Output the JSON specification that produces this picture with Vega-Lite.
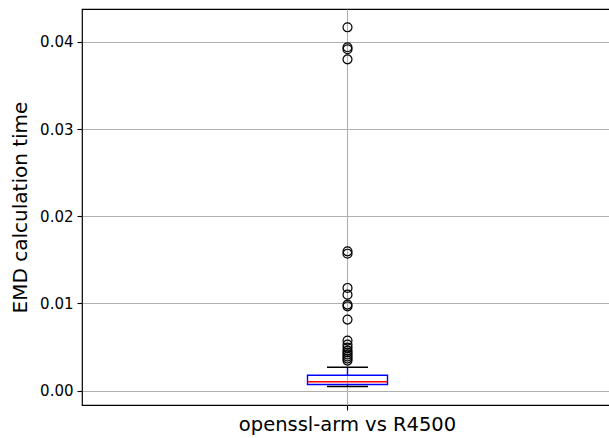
{
  "$schema": "https://vega.github.io/schema/vega-lite/v6.json",
  "width": 531,
  "height": 396,
  "autosize": {"type": "none"},
  "padding": {"left": 82, "top": 9, "right": 0, "bottom": 33},
  "background": "white",
  "config": {
    "font": "DejaVu Sans",
    "view": {"stroke": "black", "strokeWidth": 1.2},
    "axis": {
      "gridColor": "#b0b0b0",
      "gridWidth": 1.1,
      "gridOpacity": 1,
      "domain": false,
      "tickColor": "black",
      "tickSize": 5,
      "tickWidth": 1.1,
      "labelColor": "black",
      "labelFont": "DejaVu Sans",
      "titleFont": "DejaVu Sans",
      "titleFontWeight": "normal",
      "titleColor": "black"
    }
  },
  "datasets": {
    "summary": [
      {"group": "openssl-arm vs R4500", "lower": 0.00046, "q1": 0.00069, "median": 0.00100, "q3": 0.00175, "upper": 0.00267}
    ],
    "outliers": [
      {"group": "openssl-arm vs R4500", "value": 0.04168},
      {"group": "openssl-arm vs R4500", "value": 0.03939},
      {"group": "openssl-arm vs R4500", "value": 0.03916},
      {"group": "openssl-arm vs R4500", "value": 0.03800},
      {"group": "openssl-arm vs R4500", "value": 0.01597},
      {"group": "openssl-arm vs R4500", "value": 0.01570},
      {"group": "openssl-arm vs R4500", "value": 0.01177},
      {"group": "openssl-arm vs R4500", "value": 0.01100},
      {"group": "openssl-arm vs R4500", "value": 0.00986},
      {"group": "openssl-arm vs R4500", "value": 0.00966},
      {"group": "openssl-arm vs R4500", "value": 0.00814},
      {"group": "openssl-arm vs R4500", "value": 0.00573},
      {"group": "openssl-arm vs R4500", "value": 0.00527},
      {"group": "openssl-arm vs R4500", "value": 0.00493},
      {"group": "openssl-arm vs R4500", "value": 0.00458},
      {"group": "openssl-arm vs R4500", "value": 0.00436},
      {"group": "openssl-arm vs R4500", "value": 0.00413},
      {"group": "openssl-arm vs R4500", "value": 0.00390},
      {"group": "openssl-arm vs R4500", "value": 0.00367},
      {"group": "openssl-arm vs R4500", "value": 0.00344}
    ]
  },
  "encoding": {
    "x": {
      "field": "group",
      "type": "nominal",
      "scale": {"type": "band", "paddingInner": 0, "paddingOuter": 0},
      "axis": {"title": null, "labelAngle": 0, "labelFontSize": 19.5, "labelLimit": 0, "labelPadding": 5, "bandPosition": 0.5, "grid": true}
    }
  },
  "layer": [
    {
      "data": {"name": "summary"},
      "mark": {"type": "rule", "color": "#0000ff", "strokeWidth": 1.4},
      "encoding": {
        "y": {
          "field": "lower",
          "type": "quantitative",
          "scale": {"domain": [-0.00166, 0.04378], "nice": false, "zero": false},
          "axis": {
            "title": "EMD calculation time",
            "titleFontSize": 20,
            "titlePadding": 9,
            "values": [0, 0.01, 0.02, 0.03, 0.04],
            "format": ".2f",
            "labelFontSize": 15,
            "labelPadding": 4,
            "grid": true
          }
        },
        "y2": {"field": "q1"}
      }
    },
    {
      "data": {"name": "summary"},
      "mark": {"type": "rule", "color": "#0000ff", "strokeWidth": 1.4},
      "encoding": {
        "y": {"field": "q3", "type": "quantitative"},
        "y2": {"field": "upper"}
      }
    },
    {
      "data": {"name": "summary"},
      "mark": {"type": "bar", "size": 80, "fill": "white", "fillOpacity": 0, "stroke": "#0000ff", "strokeWidth": 1.4},
      "encoding": {
        "y": {"field": "q1", "type": "quantitative"},
        "y2": {"field": "q3"}
      }
    },
    {
      "data": {"name": "summary"},
      "mark": {"type": "tick", "size": 80, "thickness": 1.5, "color": "#ff0000", "opacity": 1},
      "encoding": {
        "y": {"field": "median", "type": "quantitative"}
      }
    },
    {
      "data": {"name": "summary"},
      "mark": {"type": "tick", "size": 41, "thickness": 1.5, "color": "black", "opacity": 1},
      "encoding": {
        "y": {"field": "lower", "type": "quantitative"}
      }
    },
    {
      "data": {"name": "summary"},
      "mark": {"type": "tick", "size": 41, "thickness": 1.5, "color": "black", "opacity": 1},
      "encoding": {
        "y": {"field": "upper", "type": "quantitative"}
      }
    },
    {
      "data": {"name": "outliers"},
      "mark": {"type": "point", "shape": "circle", "filled": false, "size": 80, "stroke": "black", "strokeWidth": 1.2, "opacity": 1},
      "encoding": {
        "y": {"field": "value", "type": "quantitative"}
      }
    }
  ]
}
